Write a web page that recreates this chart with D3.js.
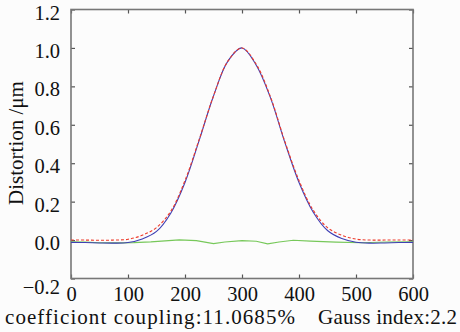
<!DOCTYPE html>
<html lang="en">
<head>
    <meta charset="UTF-8">
    <title>Distortion fit</title>
    <script src="https://d3js.org/d3.v7.min.js"></script>
    <style>
        body {
            margin: 0;
            background: #fcfcfc;
        }
    </style>
</head>
<body>
    <div id="chart"></div>

    <script>
        // measured curve (blue), fitted gauss (red dashed), residual (green)
        const xPos = [0, 25, 50, 75, 100, 125, 150, 175, 200, 225, 250, 275, 300,
                      325, 350, 375, 400, 425, 450, 475, 500, 525, 550, 575, 600];
        const measured = [-0.012, -0.013, -0.015, -0.016, -0.013, 0.006, 0.045, 0.14, 0.30, 0.52, 0.75, 0.93, 1.00,
                          0.91, 0.74, 0.51, 0.30, 0.145, 0.05, 0.008, -0.011, -0.016, -0.015, -0.013, -0.012];
        const fitted = [0.0, 0.0, -0.001, 0.0, 0.004, 0.025, 0.065, 0.15, 0.31, 0.525, 0.75, 0.93, 1.00,
                        0.915, 0.745, 0.515, 0.31, 0.155, 0.065, 0.025, 0.005, 0.0, 0.0, 0.0, 0.0];
        const residX = [0, 25, 50, 80, 110, 140, 165, 190, 220, 250, 270, 300, 325, 345, 365, 390, 420, 465, 510, 555, 600];
        const residual = [-0.009, -0.011, -0.014, -0.015, -0.013, -0.009, -0.004, 0.001, -0.003, -0.018, -0.01,
                          -0.003, -0.006, -0.02, -0.01, -0.001, -0.006, -0.011, -0.014, -0.01, -0.009];

        const xTicks = [0, 100, 200, 300, 400, 500, 600];
        const yTicks = [-0.2, 0, 0.2, 0.4, 0.6, 0.8, 1.0, 1.2];

        const width = 460, height = 332;
        const serif = "'Liberation Serif', 'DejaVu Serif', serif";
        const svg = d3.select("#chart").append("svg")
            .attr("width", width)
            .attr("height", height);

        const x = d3.scaleLinear().domain([0, 600]).range([71, 413]);
        const y = d3.scaleLinear().domain([-0.2, 1.2]).range([278.5, 9.5]);

        const axisColor = "#777";

        // axes with inward ticks
        const gLeft = svg.append("g").attr("transform", `translate(${x(0)},0)`)
            .call(d3.axisLeft(y).tickValues(yTicks).tickSize(-4).tickPadding(11).tickFormat(d3.format(".1f")));
        const gBottom = svg.append("g").attr("transform", `translate(0,${y(-0.2)})`)
            .call(d3.axisBottom(x).tickValues(xTicks).tickSize(-4).tickPadding(8));
        const gRight = svg.append("g").attr("transform", `translate(${x(600)},0)`)
            .call(d3.axisRight(y).tickValues(yTicks).tickSize(-4).tickFormat(""));
        const gTop = svg.append("g").attr("transform", `translate(0,${y(1.2)})`)
            .call(d3.axisTop(x).tickValues(xTicks).tickSize(-4).tickFormat(""));

        [gLeft, gBottom, gRight, gTop].forEach(g => {
            g.attr("font-family", null).attr("font-size", null);
            g.select(".domain").remove();
            g.selectAll("line").attr("stroke", "#555").attr("stroke-width", 1.2);
            g.selectAll("text")
                .style("font-family", serif)
                .style("font-size", "20.5px")
                .attr("fill", "#111");
        });
        gLeft.selectAll("text").attr("dy", d => d === -0.2 ? "0.72em" : "0.47em");

        // frame
        svg.append("rect")
            .attr("x", x(0)).attr("y", y(1.2))
            .attr("width", x(600) - x(0)).attr("height", y(-0.2) - y(1.2))
            .attr("fill", "none")
            .attr("stroke", axisColor)
            .attr("stroke-width", 1.6);

        const line = (xs) => d3.line()
            .x((d, i) => x(xs[i]))
            .y(d => y(d))
            .curve(d3.curveCatmullRom);

        svg.append("path")
            .datum(residual)
            .attr("d", d3.line().x((d, i) => x(residX[i])).y(d => y(d)))
            .attr("fill", "none")
            .attr("stroke", "#77c85a")
            .attr("stroke-width", 1.2);

        svg.append("path")
            .datum(measured)
            .attr("d", line(xPos))
            .attr("fill", "none")
            .attr("stroke", "#3f3fb4")
            .attr("stroke-width", 1.1);

        svg.append("path")
            .datum(fitted)
            .attr("d", line(xPos))
            .attr("fill", "none")
            .attr("stroke", "#ee3a2a")
            .attr("stroke-width", 1.1)
            .attr("stroke-dasharray", "3,2");

        // labels
        svg.append("text")
            .attr("transform", "translate(23,143) rotate(-90)")
            .attr("text-anchor", "middle")
            .style("font-family", serif)
            .style("font-size", "21px")
            .attr("fill", "#111")
            .text("Distortion /μm");

        svg.append("text")
            .attr("x", 5).attr("y", 324)
            .attr("textLength", 290)
            .attr("lengthAdjust", "spacing")
            .style("font-family", serif)
            .style("font-size", "21px")
            .attr("fill", "#111")
            .text("coefficiont coupling:11.0685%");

        svg.append("text")
            .attr("x", 318).attr("y", 324)
            .attr("textLength", 139)
            .attr("lengthAdjust", "spacing")
            .style("font-family", serif)
            .style("font-size", "21px")
            .attr("fill", "#111")
            .text("Gauss index:2.2");
    </script>
</body>
</html>
